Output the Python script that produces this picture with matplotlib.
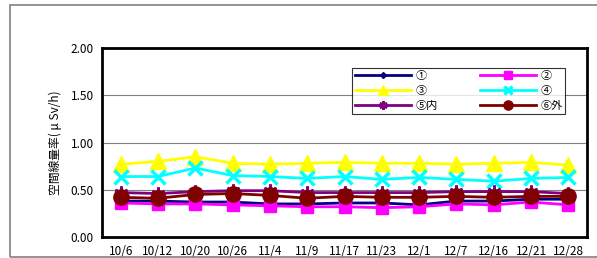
import matplotlib.pyplot as plt
import matplotlib.patches as patches

plt.rcParams['font.family'] = ['Noto Sans CJK JP', 'DejaVu Sans']

dates = ['10/6', '10/12', '10/20', '10/26', '11/4', '11/9', '11/17',
         '11/23', '12/1', '12/7', '12/16', '12/21', '12/28']

s1 = [0.38, 0.38, 0.37, 0.37, 0.35, 0.35, 0.36, 0.36, 0.34, 0.38, 0.38, 0.40, 0.40]
s2 = [0.36, 0.35, 0.35, 0.34, 0.33, 0.32, 0.32, 0.31, 0.32, 0.35, 0.34, 0.37, 0.34]
s3 = [0.77, 0.80, 0.85, 0.78, 0.77, 0.78, 0.79, 0.78, 0.78, 0.77, 0.78, 0.79, 0.76]
s4 = [0.64, 0.64, 0.73, 0.65, 0.64, 0.62, 0.64, 0.61, 0.63, 0.61, 0.59, 0.62, 0.63]
s5 = [0.47, 0.46, 0.48, 0.49, 0.49, 0.47, 0.47, 0.47, 0.47, 0.48, 0.48, 0.48, 0.46]
s6 = [0.42, 0.41, 0.45, 0.46, 0.44, 0.41, 0.43, 0.42, 0.42, 0.43, 0.42, 0.43, 0.43]

labels = ['①', '②', '③', '④', '⑤内', '⑥外']

fig = plt.figure(figsize=(5.97, 2.58), dpi=100)
fig.patches.append(patches.Rectangle((10 / 597, 1 / 258), 0.99, 252 / 258,
                                     transform=fig.transFigure, fill=False,
                                     edgecolor='#808080', linewidth=1.2))
ax = fig.add_axes([102 / 597, 21 / 258, 485 / 597, 189 / 258])

x = list(range(len(dates)))
lines = []
lines.append(ax.plot(x, s1, color='#000080', marker='D', markersize=5, lw=2, label=labels[0])[0])
lines.append(ax.plot(x, s2, color='#ff00ff', marker='s', markersize=9, lw=2, label=labels[1])[0])
lines.append(ax.plot(x, s3, color='#ffff00', marker='^', markersize=11, lw=2, label=labels[2])[0])
lines.append(ax.plot(x, s4, color='#00ffff', marker='x', markersize=10, mew=2.5, lw=2, label=labels[3])[0])
lines.append(ax.plot(x, s5, color='#800080', marker=(6, 2, 0), markersize=10, mew=2, lw=2, label=labels[4])[0])
lines.append(ax.plot(x, s6, color='#800000', marker='o', markersize=11, lw=2, label=labels[5])[0])

ax.set_xlim(-0.5, len(dates) - 0.5)
ax.set_ylim(0, 2.0)
ax.set_yticks([0, 0.5, 1.0, 1.5, 2.0])
ax.set_yticklabels(['0.00', '0.50', '1.00', '1.50', '2.00'], fontsize=8.5)
ax.set_xticks(x)
ax.set_xticklabels(dates, fontsize=8.5)
ax.tick_params(length=0, pad=6)
ax.yaxis.grid(True, color='#808080', linewidth=0.8)
ax.set_axisbelow(True)
for sp in ax.spines.values():
    sp.set_linewidth(2)
    sp.set_color('black')
ax.set_ylabel('空間線量率( μ Sv/h)', fontsize=8.5, labelpad=6)

order = [0, 2, 4, 1, 3, 5]
leg = ax.legend([lines[i] for i in order], [labels[i] for i in order], ncol=2,
                loc='lower left', bbox_to_anchor=(0.505, 0.624, 0.462, 0.25),
                mode='expand', fontsize=8, frameon=True, fancybox=False,
                edgecolor='black', markerscale=0.6, handlelength=5,
                borderpad=0.25, labelspacing=0.45, handletextpad=0.4)
leg.get_frame().set_linewidth(0.8)

fig.savefig('out.png', dpi=100)
